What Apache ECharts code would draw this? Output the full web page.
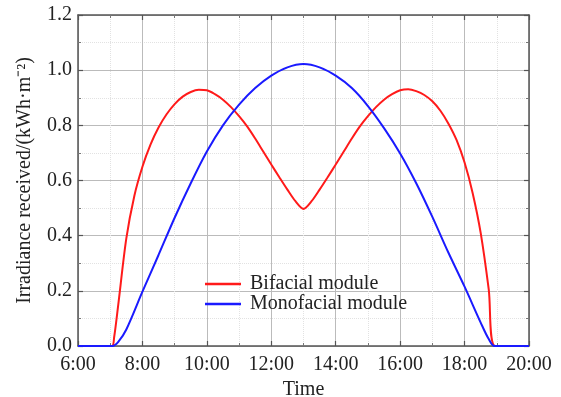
<!DOCTYPE html>
<html>
<head>
<meta charset="utf-8">
<script src="https://cdn.jsdelivr.net/npm/echarts@6/dist/echarts.min.js"></script>
<style>
  html, body { margin: 0; padding: 0; background: #fff; }
  #chart { width: 561px; height: 397px; }
</style>
</head>
<body>
<div id="chart"></div>
<script>
// hours of day (decimal) and irradiance
const bifacialHours = [6.0, 7.05, 7.12, 7.25, 7.5, 7.75, 8.0, 8.25, 8.5, 8.75, 9.0, 9.25, 9.5, 9.75,
  10.0, 10.25, 10.5, 10.75, 11.0, 11.25, 11.5, 11.75, 12.0, 12.25, 12.5, 12.75, 13.0,
  13.25, 13.5, 13.75, 14.0, 14.25, 14.5, 14.75, 15.0, 15.25, 15.5, 15.75, 16.0, 16.25,
  16.5, 16.75, 17.0, 17.25, 17.5, 17.75, 18.0, 18.25, 18.5, 18.75, 18.95, 20.0]
const bifacialValues = [0, 0, 0.03, 0.15, 0.39, 0.545, 0.65, 0.73, 0.792, 0.84, 0.877, 0.904, 0.921, 0.929,
  0.927, 0.913, 0.893, 0.866, 0.833, 0.796, 0.752, 0.705, 0.658, 0.612, 0.567, 0.525, 0.497,
  0.525, 0.567, 0.612, 0.658, 0.705, 0.752, 0.796, 0.833, 0.866, 0.893, 0.913, 0.927, 0.931,
  0.924, 0.91, 0.887, 0.853, 0.806, 0.747, 0.665, 0.555, 0.41, 0.205, 0, 0]

const monofacialHours = [6.0, 7.07, 7.25, 7.5, 8.0, 8.5, 9.0, 9.5, 10.0, 10.5, 11.0, 11.5, 12.0, 12.5,
  13.0, 13.5, 14.0, 14.5, 15.0, 15.5, 16.0, 16.5, 17.0, 17.5, 18.0, 18.5, 18.75, 18.93, 20.0]
const monofacialValues = [0, 0, 0.015, 0.06, 0.197, 0.33, 0.465, 0.59, 0.705, 0.8, 0.875, 0.935, 0.98, 1.01,
  1.022, 1.01, 0.98, 0.935, 0.87, 0.79, 0.698, 0.59, 0.468, 0.338, 0.215, 0.085, 0.025, 0, 0]

const seriesNames = ['Bifacial module', 'Monofacial module']
const xTicks = [6, 8, 10, 12, 14, 16, 18, 20]

const font = 'Liberation Serif, Times New Roman, serif'
const zip = (xs, ys) => xs.map((x, i) => [x, ys[i]])

const chart = echarts.init(document.getElementById('chart'))

const frameLine = { show: true, onZero: false, lineStyle: { color: '#555', width: 1.5 } }
const ticksIn = { show: true, inside: true, length: 5, lineStyle: { color: '#555', width: 1.2 } }
const minorIn = { show: true, splitNumber: 2, length: 3, lineStyle: { color: '#777', width: 1 } }

chart.setOption({
  animation: false,
  grid: { left: 78, right: 32, top: 15, bottom: 51, containLabel: false, outerBoundsMode: 'none' },
  legend: {
    data: seriesNames,
    orient: 'vertical',
    left: 200,
    top: 269,
    icon: 'rect',
    itemWidth: 36,
    itemHeight: 2.5,
    itemGap: 0,
    textStyle: { fontFamily: font, fontSize: 20, color: '#222', padding: [0, 0, 0, 4] },
  },
  xAxis: [{
    type: 'value',
    min: 6,
    max: 20,
    interval: 2,
    name: 'Time',
    nameLocation: 'middle',
    nameGap: 34,
    nameTextStyle: { fontFamily: font, fontSize: 20, color: '#222' },
    axisLine: frameLine,
    axisTick: ticksIn,
    minorTick: minorIn,
    axisLabel: {
      margin: 9,
      fontFamily: font,
      fontSize: 20,
      color: '#222',
      formatter: (v) => (xTicks.includes(v) ? v + ':00' : ''),
    },
    splitLine: { show: true, lineStyle: { color: '#bbb', width: 1 } },
    minorSplitLine: { show: true, lineStyle: { color: '#e2e2e2', type: 'dotted', width: 1 } },
  }, {
    type: 'value',
    position: 'top',
    min: 6,
    max: 20,
    interval: 2,
    axisLine: frameLine,
    axisTick: ticksIn,
    minorTick: minorIn,
    axisLabel: { show: false },
    splitLine: { show: false },
  }],
  yAxis: [{
    type: 'value',
    min: 0,
    max: 1.2,
    interval: 0.2,
    name: 'Irradiance received/(kWh·m⁻²)',
    nameLocation: 'middle',
    nameGap: 43,
    nameTextStyle: { fontFamily: font, fontSize: 20, color: '#222' },
    axisLine: frameLine,
    axisTick: ticksIn,
    minorTick: minorIn,
    axisLabel: {
      margin: 6,
      fontFamily: font,
      fontSize: 20,
      color: '#222',
      formatter: (v) => v.toFixed(1),
    },
    splitLine: { show: true, lineStyle: { color: '#bbb', width: 1 } },
    minorSplitLine: { show: true, lineStyle: { color: '#e2e2e2', type: 'dotted', width: 1 } },
  }, {
    type: 'value',
    position: 'right',
    min: 0,
    max: 1.2,
    interval: 0.2,
    axisLine: frameLine,
    axisTick: ticksIn,
    minorTick: minorIn,
    axisLabel: { show: false },
    splitLine: { show: false },
  }],
  series: [{
    name: seriesNames[0],
    type: 'line',
    data: zip(bifacialHours, bifacialValues),
    smooth: 0.3,
    symbol: 'none',
    z: 3,
    color: '#ff1a1a',
    lineStyle: { color: '#ff1a1a', width: 2 },
  }, {
    name: seriesNames[1],
    type: 'line',
    data: zip(monofacialHours, monofacialValues),
    smooth: 0.3,
    symbol: 'none',
    z: 4,
    color: '#1a1aff',
    lineStyle: { color: '#1a1aff', width: 2 },
  }],
})
</script>
</body>
</html>
